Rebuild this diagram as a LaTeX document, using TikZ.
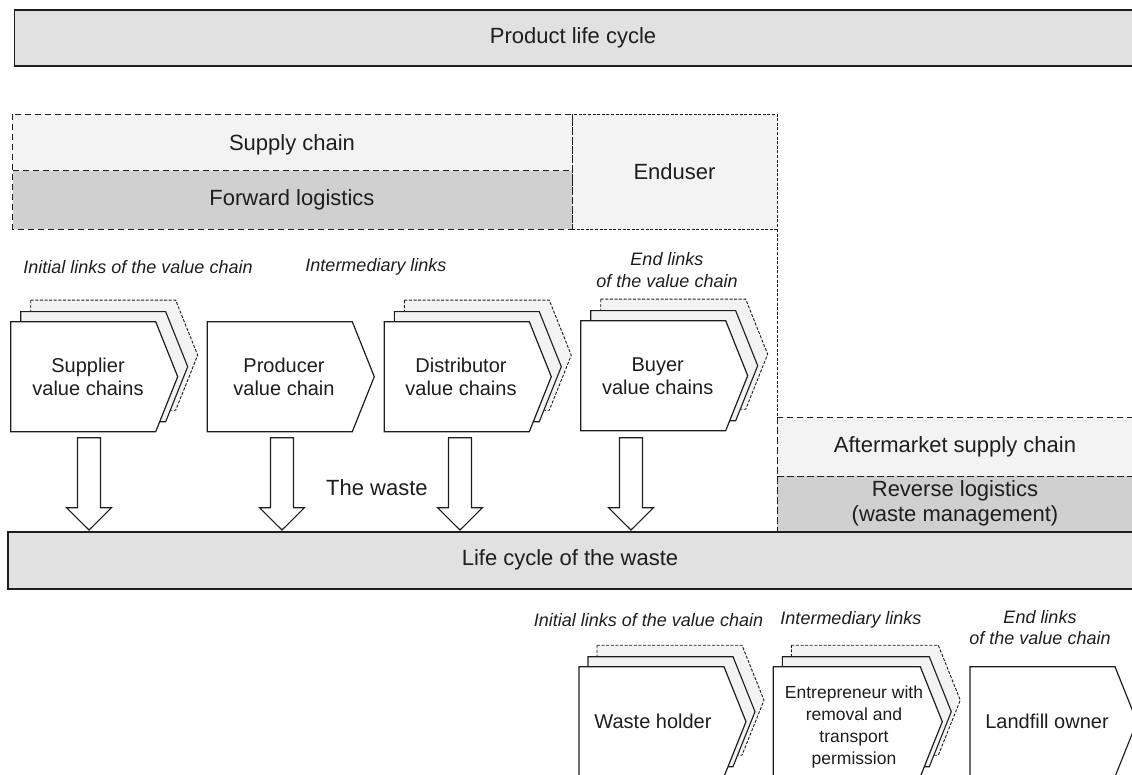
\documentclass[tikz,border=0pt]{standalone}
\usepackage{fontspec}
\setmainfont{Liberation Sans}
\definecolor{ink}{HTML}{1E1E1E}
\definecolor{bandgray}{HTML}{E1E1E1}
\definecolor{paler}{HTML}{F3F3F3}
\definecolor{midgray}{HTML}{D0D0D0}
% chevron outline: left x, top y, body width, style
\newcommand{\chevshape}[4]{%
  \draw[#4] (#1,#2) -- ++(#3,0) -- ++(22,55) -- ++(-22,55) -- ++(-#3,0) -- cycle;}
% stacked chevron: two back sheets behind a white front sheet
\newcommand{\chevstack}[5]{%
  \chevshape{#1+#4*2}{#2-#5*2.15}{#3}{backsheet}%
  \chevshape{#1+#4}{#2-#5}{#3}{midsheet}%
  \chevshape{#1}{#2}{#3}{frontsheet}}
% block arrow down into the waste band, centred on x
\newcommand{\wastearrow}[2]{%
  \coordinate (#2) at (#1,437.7);
  \draw[blockarrow] ($(#2)+(-11.5,0)$) -- ++(23,0) -- ++(0,70) -- ++(11,0)
    -- ++(-22.5,22.3) -- ++(-22.5,-22.3) -- ++(11,0) -- cycle;}
\usetikzlibrary{calc}
\begin{document}
\begin{tikzpicture}[x=1pt,y=-1pt,
  coarse/.style={draw=ink, line width=0.9pt, dash pattern=on 6.5pt off 3.5pt},
  fine/.style={draw=ink, line width=0.9pt, dash pattern=on 3pt off 1.6pt},
  band/.style={draw=ink, line width=1.4pt, fill=bandgray},
  frontsheet/.style={draw=ink, line width=1.2pt, fill=white},
  midsheet/.style={draw=ink, line width=1.1pt, fill=paler},
  backsheet/.style={draw=ink, line width=0.9pt, fill=paler, dash pattern=on 3pt off 1.6pt},
  blockarrow/.style={draw=ink, line width=1.1pt, fill=white},
  boxlabel/.style={inner sep=0pt, text=ink, font=\fontsize{22}{25}\selectfont},
  chevlabel/.style={inner sep=0pt, text=ink, align=center, font=\fontsize{20}{23}\selectfont},
  smallchev/.style={inner sep=0pt, text=ink, align=center, font=\fontsize{17.5}{22}\selectfont},
  linklabel/.style={inner sep=0pt, text=ink, align=center, font=\fontsize{18}{21.5}\selectfont\itshape}]
\clip (0,0) rectangle (1132,775);

% top band
\draw[band] (14.7,10) rectangle (1145,66);
\node[boxlabel] (plc) at (573,38) {Product life cycle};

% supply chain / forward logistics / enduser blocks
\fill[paler] (12.7,114) rectangle (572,170.7);
\fill[midgray] (12.7,170.7) rectangle (572,229);
\fill[paler] (572,114) rectangle (777,229);
\draw[coarse] (12.7,114) rectangle (572,229);
\draw[coarse] (12.7,170.7) -- (572,170.7);
\draw[fine] (572,114) rectangle (777,229);
\node[boxlabel] (sc) at (292,145) {Supply chain};
\node[boxlabel] (fl) at (292,200) {Forward logistics};
\node[boxlabel] (eu) at (674.5,172) {Enduser};

% aftermarket / reverse logistics blocks
\fill[paler] (777,417) rectangle (1145,476);
\fill[midgray] (777,476) rectangle (1145,532);
\draw[fine] (777,229) -- (777,417);
\draw[coarse] (777,417) rectangle (1145,532);
\draw[coarse] (777,476) -- (1145,476);
\node[boxlabel] (am) at (955,447) {Aftermarket supply chain};
\node[boxlabel, align=center] (rl) at (955,503) {Reverse logistics\\(waste management)};

% upper value chain labels
\node[linklabel] (l1) at (138,267) {Initial links of the value chain};
\node[linklabel] (l2) at (376,267) {Intermediary links};
\node[linklabel] (l3) at (667,270) {End links\\of the value chain};

% upper chevrons
\chevstack{10.7}{321.7}{145}{10}{10}
\chevshape{207.3}{321.7}{145}{frontsheet}
\chevstack{384.3}{321.7}{145}{10}{10}
\chevstack{580.7}{320.7}{145}{10}{10}
\node[chevlabel] (sup) at (88,376.5) {Supplier\\value chains};
\node[chevlabel] (prod) at (284,376.5) {Producer\\value chain};
\node[chevlabel] (dist) at (461,376.5) {Distributor\\value chains};
\node[chevlabel] (buy) at (657.7,376.5) {Buyer\\value chains};

% waste band and arrows
\draw[band] (8,532) rectangle (1145,589);
\node[boxlabel] (lcw) at (570,560) {Life cycle of the waste};
\wastearrow{89}{a1}
\wastearrow{282}{a2}
\wastearrow{460}{a3}
\wastearrow{631}{a4}
\node[boxlabel, anchor=west] (tw) at (326,488) {The waste};

% lower value chain labels
\node[linklabel] (m1) at (648.5,620) {Initial links of the value chain};
\node[linklabel] (m2) at (851,620) {Intermediary links};
\node[linklabel] (m3) at (1040,627.5) {End links\\of the value chain};

% lower chevrons
\chevstack{579}{666.7}{145}{9}{10}
\chevstack{773.3}{666.7}{147}{9}{10}
\chevshape{970}{666.7}{145}{frontsheet}
\node[chevlabel] (wh) at (653,721.7) {Waste holder};
\node[smallchev] (ent) at (854,726.5) {Entrepreneur with\\removal and\\transport\\permission};
\node[chevlabel] (lo) at (1047,721.7) {Landfill owner};
\end{tikzpicture}
\end{document}
